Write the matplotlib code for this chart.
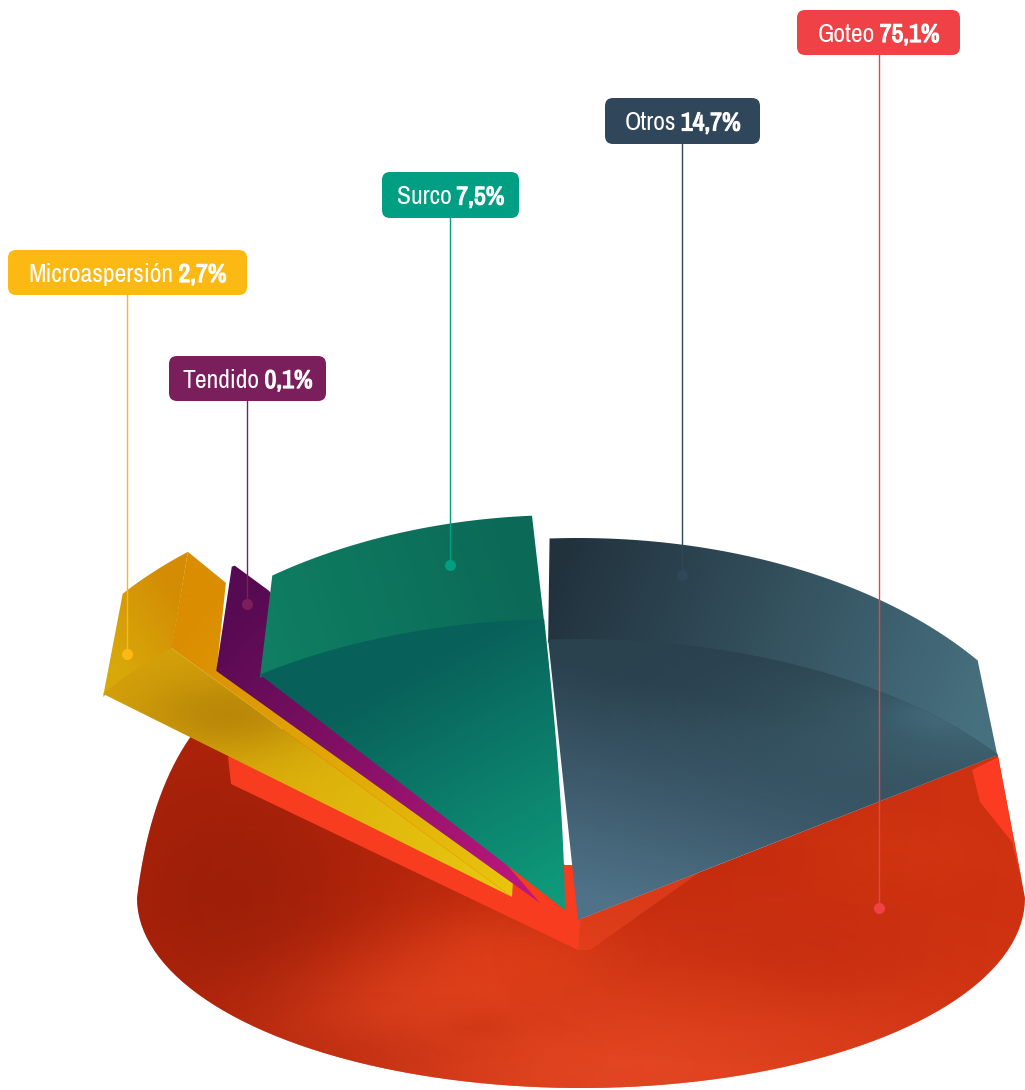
# Grafica de sectores en perspectiva: superficie por sistema de riego
import numpy as np
import matplotlib.pyplot as plt
import matplotlib.patheffects as pe
from matplotlib import font_manager
from matplotlib.colors import LinearSegmentedColormap, to_rgb
from matplotlib.patches import FancyBboxPatch, Polygon

# Datos
categorias = ['Goteo', 'Otros', 'Surco', 'Tendido', 'Microaspersión']
porcentajes = [75.1, 14.7, 7.5, 0.1, 2.7]
# El dibujo no guarda la proporcion: barrido de cada sector
barrido = [258.5, 57.3, 33.7, 0.6, 11.0]

# Estilo de cada sector
color_caja = ['#ef4146', '#30465a', '#009f83', '#7a1f5c', '#fdb913']
caja_x0 = [797, 605, 382, 169, 8]
caja_x1 = [960, 760, 519, 326, 247]
caja_y0 = [10, 98, 172, 356, 250]
caja_y1 = [55, 144, 218, 401, 295]
pin_x = [879, 682, 450, 247, 127]
pin_y = [908, 575, 565, 604, 654]
inicio = [-222.5, 36.0, 92.3, 128.0, 131.0]
centro_x = [578, 578, 565, 540, 512]
centro_y = [920, 920, 910, 903, 897]
radio_a = [519, 519, 519, 519, 519]
radio_b = [281, 281, 291, 297, 330]
altura = [0, 85, 78, 98, 118]
techo_a = [0, 494, 498, 494, 494]
techo_b = [0, 297, 317, 305, 301]
techo_giro = [0, 0, 1.5, 0, 0]

# Fuente estrecha si la hay; si no, una normal algo mas pequeña
estrechas = sorted({f.name for f in font_manager.fontManager.ttflist
                    if 'ondensed' in f.name or 'Narrow' in f.name or 'ondensed' in str(f.stretch)})
if estrechas:
    familia = [estrechas[0], 'DejaVu Sans']
    tam = 18.5
else:
    familia = ['Liberation Sans', 'DejaVu Sans']
    tam = 15.5
plt.rcParams['font.family'] = familia

fig = plt.figure(figsize=(10.25, 10.9), dpi=100)
ax = fig.add_axes([0, 0, 1, 1])
ax.set_xlim(0, 1025)
ax.set_ylim(1090, 0)
ax.axis('off')


def rellena(puntos, c1, c2, p1, p2, z=2):
    # degradado lineal recortado al poligono
    xx, yy = np.meshgrid(np.linspace(0, 1025, 128), np.linspace(0, 1090, 128))
    d = np.array(p2, float) - np.array(p1, float)
    t = ((xx - p1[0]) * d[0] + (yy - p1[1]) * d[1]) / (d @ d)
    cmap = LinearSegmentedColormap.from_list('g', [c1, c2])
    im = ax.imshow(np.clip(t, 0, 1), cmap=cmap, vmin=0, vmax=1, extent=(0, 1025, 1090, 0),
                   interpolation='bilinear', aspect='auto', zorder=z)
    pol = Polygon(puntos, closed=True, transform=ax.transData, fc='none', ec='none')
    ax.add_patch(pol)
    im.set_clip_path(pol)


def mancha(puntos, x, y, rx, ry, color, alfa, z=2):
    # zona difusa de color para imitar la textura de acuarela
    xx, yy = np.meshgrid(np.linspace(0, 1025, 128), np.linspace(0, 1090, 128))
    rgba = np.zeros(xx.shape + (4,))
    rgba[..., :3] = to_rgb(color)
    rgba[..., 3] = alfa * np.exp(-((xx - x) / rx) ** 2 - ((yy - y) / ry) ** 2)
    im = ax.imshow(rgba, extent=(0, 1025, 1090, 0), interpolation='bilinear', aspect='auto', zorder=z)
    pol = Polygon(puntos, closed=True, transform=ax.transData, fc='none', ec='none')
    ax.add_patch(pol)
    im.set_clip_path(pol)


def arco(i, a, b, h=0, giro=0, n=60):
    # giro solo mueve el extremo inicial del arco
    t = np.radians(np.linspace(inicio[i] + giro, inicio[i] + barrido[i], n))
    return np.column_stack([centro_x[i] + a * np.cos(t), centro_y[i] - b * np.sin(t) - h])


def caras(i):
    suelo = arco(i, radio_a[i], radio_b[i])
    techo = arco(i, techo_a[i], techo_b[i], altura[i], techo_giro[i])
    centro = [[centro_x[i], centro_y[i]]]
    # el muro se mete un poco bajo la cara para que no quede junta blanca
    return np.vstack([centro, suelo]), np.vstack([suelo + [0, 3], techo[::-1]]), suelo, techo


# Goteo: base roja
iG, iO, iS, iT, iM = 0, 1, 2, 3, 4
arco_rojo = arco(iG, radio_a[iG], radio_b[iG])
fin_izq = arco_rojo[0]
fin_der = arco_rojo[-1]
th = np.radians(np.linspace(180, 360, 90))
base = np.column_stack([581 + 444 * np.cos(th), 898 - 190 * np.sin(th)])
s = np.linspace(0, 1, 20)[:, None]
curva_izq = (1 - s) ** 2 * fin_izq + 2 * s * (1 - s) * np.array([150, 790]) + s ** 2 * base[0]
rojo = np.vstack([[centro_x[iG], centro_y[iG]], curva_izq, base, fin_der])
rellena(rojo, '#b3250a', '#cf3211', (150, 800), (1000, 900))
mancha(rojo, 230, 900, 150, 160, '#8f1a08', 0.6)
mancha(rojo, 620, 1070, 330, 110, '#f0502a', 0.7)
mancha(rojo, 420, 1010, 120, 55, '#ea4a22', 0.45)
mancha(rojo, 510, 960, 110, 50, '#e8441c', 0.6)
mancha(rojo, 800, 960, 140, 50, '#c22c0e', 0.5)
mancha(rojo, 700, 1000, 90, 30, '#d83c16', 0.4)
mancha(rojo, 350, 1060, 120, 30, '#b52a10', 0.4)
mancha(rojo, 480, 1030, 40, 14, '#c8330f', 0.5)
mancha(rojo, 900, 860, 90, 40, '#d63a12', 0.4)

# franjas claras de la cara superior roja
centro_rojo = (578, 950)
franja_izq = [(228, 757), (231, 784), centro_rojo, (581, 918), (574, 865), (565, 865), (400, 770), (300, 720)]
ax.add_patch(Polygon(franja_izq, closed=True, fc='#f73c20', ec='none', zorder=2.5))
franja_der = [(972, 770), (998, 757), (1022, 882), (1012, 842), (980, 802)]
ax.add_patch(Polygon(franja_der, closed=True, fc='#fb3b22', ec='none', zorder=2.5))
franja_cen = [(578, 920), (700, 872), (590, 950), centro_rojo]
ax.add_patch(Polygon(franja_cen, closed=True, fc='#ea4420', ec='none', alpha=0.6, zorder=2.5))

# Microaspersion
cara, muro, suelo, techo = caras(iM)
rellena(muro, '#d8a80a', '#d38c04', (105, 650), (180, 600), 3)
rellena(cara, '#d4a20a', '#e8c80f', (170, 690), (510, 890), 3)
mancha(cara, 230, 715, 90, 40, '#a87208', 0.6, 3)
lat_alto = techo[0] + np.array([38, 31])
lat_bajo = suelo[0] + np.array([46, 15])
lado = [suelo[0], techo[0], lat_alto, lat_bajo, (513, 881), (512, 897)]
rellena(lado, '#db8d02', '#e8c40c', (190, 620), (510, 885), 3.1)

# Tendido
cara, muro, suelo, techo = caras(iT)
lat_alto = techo[-1] + np.array([3, -1])
lado = [suelo[-1], techo[-1], lat_alto, lat_alto + np.array([34, 25]), (540, 903)]
rellena(lado, '#560a52', '#c0187e', (230, 610), (540, 895), 3.2)

# Surco: el borde derecho va algo curvado hacia el vertice
cara, muro, suelo, techo = caras(iS)
p0 = np.array([centro_x[iS], centro_y[iS]], float)
borde = (1 - s) ** 2 * p0 + 2 * s * (1 - s) * np.array([564, 800]) + s ** 2 * suelo[0]
cara = np.vstack([borde, suelo])
rellena(muro, '#0f7e62', '#0b6957', (270, 640), (530, 560), 3.3)
rellena(cara, '#08605a', '#0f9b7b', (430, 660), (560, 900), 3.3)

# Otros
cara, muro, suelo, techo = caras(iO)
rellena(muro, '#21323d', '#47707f', (560, 560), (980, 720), 3.4)
rellena(cara, '#2a414e', '#4f7288', (650, 680), (600, 900), 3.4)
mancha(cara, 1000, 730, 220, 70, '#416674', 0.9, 3.4)
mancha(cara, 950, 715, 50, 18, '#4a7486', 0.5, 3.4)

# Cajas, lineas guia y puntos
for i, nombre in enumerate(categorias):
    ax.plot([pin_x[i], pin_x[i]], [caja_y1[i], pin_y[i]], color=color_caja[i], lw=1.0, zorder=6)
    ax.plot(pin_x[i], pin_y[i], 'o', color=color_caja[i], ms=8, mec='none', zorder=6)
    ax.add_patch(FancyBboxPatch((caja_x0[i] + 8, caja_y0[i] + 8),
                                caja_x1[i] - caja_x0[i] - 16, caja_y1[i] - caja_y0[i] - 16,
                                boxstyle='round,pad=8,rounding_size=8',
                                fc=color_caja[i], ec='none', zorder=7))

fig.canvas.draw()
rend = fig.canvas.get_renderer()
for i, nombre in enumerate(categorias):
    yc = (caja_y0[i] + caja_y1[i]) / 2
    valor = f'{porcentajes[i]:.1f}'.replace('.', ',') + '%'
    t1 = ax.text(0, yc, nombre, color='white', fontsize=tam, va='center_baseline', ha='left', zorder=8)
    # la fuente estrecha no trae negrita: se engruesa con un trazo
    t2 = ax.text(0, yc, valor, color='white', fontsize=tam, fontweight='bold', va='center_baseline',
                 ha='left', zorder=8, path_effects=[pe.withStroke(linewidth=0.9, foreground='white')])
    w1 = t1.get_window_extent(rend).width + 5
    w2 = t2.get_window_extent(rend).width
    x = (caja_x0[i] + caja_x1[i] - w1 - w2) / 2
    t1.set_x(x)
    t2.set_x(x + w1)

ax.set_xlim(0, 1025)
ax.set_ylim(1090, 0)
fig.savefig('out.png', dpi=100, facecolor='white')
